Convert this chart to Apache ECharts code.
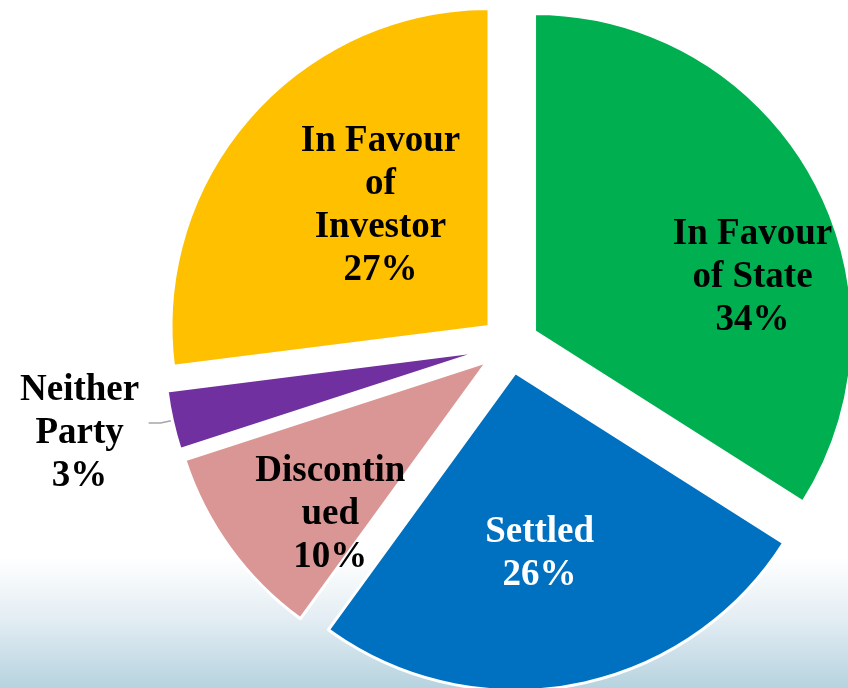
<!DOCTYPE html>
<html>
<head>
<meta charset="utf-8">
<script src="https://cdn.jsdelivr.net/npm/echarts@6/dist/echarts.min.js"></script>
<style>
  html, body { margin: 0; padding: 0; background: #fff; }
  #main { width: 848px; height: 688px; }
</style>
</head>
<body>
<div id="main"></div>
<script>
// slices, clockwise from 12 o'clock
var categories = ['In Favour\nof State', 'Settled', 'Discontin\nued', 'Neither\nParty', 'In Favour\nof\nInvestor'];
var shares = [34, 26, 10, 3, 27];
var sliceColors = ['#00b050', '#0070c0', '#da9694', '#7030a0', '#ffc000'];
var labelColors = ['#000', '#fff', '#000', '#000', '#000'];
// nudges for the inside labels
var labelShift = [[76, 24], [-6, 22], [-26, 58], [0, 0], [13, -13]];

var myChart = echarts.init(document.getElementById('main'), null, { renderer: 'canvas' });

var pieData = categories.map(function (name, i) {
  var item = {
    name: name,
    value: shares[i],
    selected: true,
    itemStyle: { color: sliceColors[i] },
    label: { color: labelColors[i] }
  };
  if (i === 3) {
    item.label = {
      position: 'outside',
      color: '#000',
      formatter: '{t|{b}\n{c}%}',
      padding: [20, 0, 0, 0],
      rich: {
        t: {
          width: 128, align: 'center', fontFamily: 'Liberation Serif',
          fontWeight: 'bold', fontSize: 37, lineHeight: 43, color: '#000'
        }
      }
    };
    item.labelLine = { show: true, length: 12, length2: 12 };
  }
  return item;
});

var option = {
  animation: false,
  graphic: [{
    type: 'rect',
    silent: true,
    z: -10,
    shape: { x: 0, y: 0, width: 848, height: 688 },
    style: {
      fill: new echarts.graphic.LinearGradient(0, 0, 0, 1, [
        { offset: 0, color: '#ffffff' },
        { offset: 0.81, color: '#ffffff' },
        { offset: 0.9, color: '#e3edf3' },
        { offset: 1, color: '#b6d3df' }
      ])
    }
  }],
  series: [{
    type: 'pie',
    center: [510, 345],
    radius: 318,
    startAngle: 90,
    clockwise: true,
    selectedMode: 'multiple',
    selectedOffset: 28,
    avoidLabelOverlap: false,
    emphasis: { disabled: true },
    itemStyle: { borderColor: '#fff', borderWidth: 3 },
    label: {
      show: true,
      position: 'inside',
      formatter: '{b}\n{c}%',
      fontFamily: 'Liberation Serif',
      fontWeight: 'bold',
      fontSize: 37,
      lineHeight: 43,
      align: 'center'
    },
    labelLine: {
      lineStyle: { color: '#a6a6a6', width: 1.5 }
    },
    labelLayout: function (params) {
      var s = labelShift[params.dataIndex];
      if (params.dataIndex === 3) return {};
      return { dx: s[0], dy: s[1] };
    },
    data: pieData
  }]
};

myChart.setOption(option);
</script>
</body>
</html>
